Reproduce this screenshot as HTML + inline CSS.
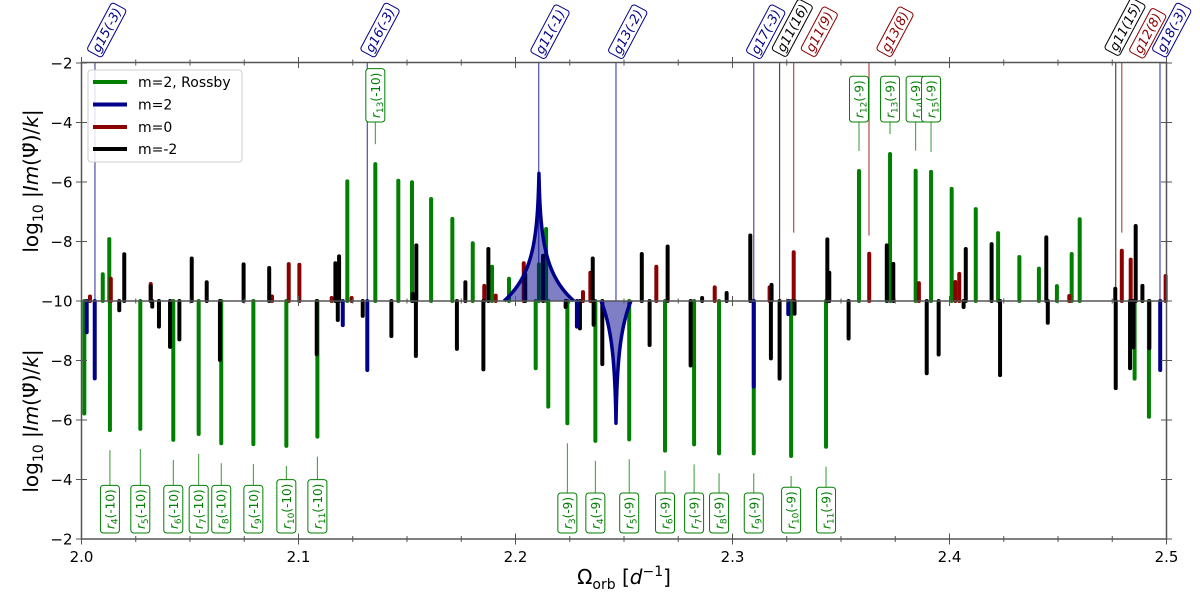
<!DOCTYPE html>
<html><head><meta charset="utf-8">
<style>
html,body{margin:0;padding:0;background:#fff;}
svg{display:block;font-family:"DejaVu Sans","Liberation Sans",sans-serif;}
</style></head>
<body>
<svg id="chart" width="1200" height="600" viewBox="0 0 1200 600" xmlns="http://www.w3.org/2000/svg">
  <g id="gBars"></g>
  <g id="gRes"></g>
  <g id="gAxes"></g>
  <g id="gLabels"></g>
  <g>
    <rect x="88" y="70" width="154" height="92" rx="3" fill="#fff" fill-opacity="0.85" stroke="#ccc" stroke-width="1"/>
    <line x1="93" y1="82" x2="127" y2="82" stroke="#007f00" stroke-width="4"/>
    <text x="138" y="87" font-size="14">m=2, Rossby</text>
    <line x1="93" y1="104.5" x2="127" y2="104.5" stroke="#00008b" stroke-width="4"/>
    <text x="138" y="109.5" font-size="14">m=2</text>
    <line x1="93" y1="127" x2="127" y2="127" stroke="#8b0000" stroke-width="4"/>
    <text x="138" y="132" font-size="14">m=0</text>
    <line x1="93" y1="149" x2="127" y2="149" stroke="#000" stroke-width="4"/>
    <text x="138" y="154" font-size="14">m=-2</text>
  </g>
  <text transform="translate(38,181) rotate(-90)" text-anchor="middle" font-size="20">log<tspan font-size="14" dy="5">10</tspan><tspan dy="-5"> |</tspan><tspan font-style="italic">Im</tspan>(Ψ̃)/<tspan font-style="italic">k</tspan>|</text>
  <text transform="translate(38,421) rotate(-90)" text-anchor="middle" font-size="20">log<tspan font-size="14" dy="5">10</tspan><tspan dy="-5"> |</tspan><tspan font-style="italic">Im</tspan>(Ψ̃)/<tspan font-style="italic">k</tspan>|</text>
  <text x="624" y="584" text-anchor="middle" font-size="20">Ω<tspan font-size="14" dy="5">orb</tspan><tspan dy="-5"> [</tspan><tspan font-style="italic">d</tspan><tspan font-size="14" dy="-8">−1</tspan><tspan dy="8">]</tspan></text>
</svg>
<script>
// ---- data ----
const greenUp = [[2.0098,-9.1],[2.0128,-7.92],[2.1225,-5.98],[2.1354,-5.4],[2.146,-5.96],[2.1523,-6.01],[2.1611,-6.57],[2.1709,-7.24],[2.1803,-8.06],[2.1892,-8.85],[2.197,-9.25],[2.2108,-8.77],[2.2141,-7.58],[2.3583,-5.63],[2.3726,-5.06],[2.3844,-5.62],[2.3915,-5.66],[2.401,-6.23],[2.4121,-6.91],[2.4224,-7.72],[2.4322,-8.52],[2.4412,-8.91],[2.4495,-9.5],[2.4563,-8.42],[2.46,-7.25]];
const greenDown = [[2.0013,-6.22],[2.0131,-5.66],[2.0271,-5.7],[2.0423,-5.33],[2.054,-5.53],[2.0644,-5.22],[2.0792,-5.19],[2.0944,-5.13],[2.1087,-5.44],[2.2093,-7.74],[2.2151,-6.45],[2.2239,-5.89],[2.2368,-5.3],[2.2524,-5.35],[2.2689,-4.97],[2.2823,-5.18],[2.2938,-4.88],[2.3098,-4.88],[2.327,-4.79],[2.3431,-5.1],[2.4853,-7.39],[2.4919,-6.11]];
const blueDown = [[2.0024,-8.95],[2.0061,-7.4],[2.1204,-9.19],[2.1317,-7.68],[2.2283,-9.14],[2.3098,-7.12],[2.3257,-9.56],[2.4971,-7.68]];
const redUp = [[2.0039,-9.85],[2.0135,-9.25],[2.0319,-9.43],[2.0878,-9.85],[2.0955,-8.76],[2.1004,-8.78],[2.1153,-9.9],[2.1245,-9.9],[2.1856,-9.49],[2.1909,-9.82],[2.2038,-8.73],[2.2311,-9.7],[2.2345,-9.05],[2.2649,-8.85],[2.2918,-9.54],[2.3171,-9.54],[2.3282,-8.36],[2.363,-8.41],[2.3859,-9.4],[2.4027,-9.36],[2.4045,-9.09],[2.4552,-9.83],[2.4794,-8.31],[2.4835,-8.61],[2.4996,-9.16]];
const blackUp = [[2.0197,-8.43],[2.0319,-9.5],[2.0508,-8.57],[2.0577,-9.37],[2.0747,-8.77],[2.0865,-8.89],[2.117,-8.73],[2.1187,-8.5],[2.1526,-9.76],[2.1543,-8.13],[2.1769,-9.37],[2.1875,-8.25],[2.2045,-9.1],[2.2127,-8.48],[2.2356,-8.57],[2.2582,-8.42],[2.2701,-8.17],[2.286,-9.9],[2.2973,-9.73],[2.3082,-7.8],[2.318,-9.46],[2.3437,-7.93],[2.3446,-9.05],[2.3711,-8.13],[2.3741,-8.75],[2.4075,-8.25],[2.4194,-8.09],[2.4446,-7.86],[2.4764,-9.59],[2.4858,-7.48],[2.4889,-9.49]];
const blackDown = [[2.0174,-9.69],[2.0326,-9.81],[2.0357,-9.14],[2.0408,-8.46],[2.0451,-8.71],[2.0638,-8.02],[2.1084,-8.21],[2.1181,-9.36],[2.1296,-9.5],[2.1428,-8.82],[2.1541,-8.15],[2.173,-8.39],[2.1852,-7.7],[2.2231,-9.8],[2.2297,-9.08],[2.236,-9.2],[2.24,-7.88],[2.2618,-8.52],[2.2807,-7.83],[2.3177,-8.07],[2.3217,-7.39],[2.3286,-9.57],[2.3535,-8.74],[2.3895,-7.57],[2.395,-8.2],[2.4065,-9.8],[2.4233,-7.51],[2.4453,-9.27],[2.4766,-7.07],[2.4832,-7.74],[2.4847,-8.44],[2.4921,-8.41]];
// resonances: [center, peak value, half width, side]
const resonances = [[2.2108,-5.71,0.0161,'up'],[2.2463,-5.89,0.0069,'down']];
// top g-mode annotations: [freq, label, color, line end value (upper half)]
const gModes = [[2.0062,'g15(-3)','#00008b',-10],[2.1317,'g16(-3)','#00008b',-10],[2.2107,'g11(-1)','#00008b',-10],[2.2463,'g13(-2)','#00008b',-10],[2.3098,'g17(-3)','#00008b',-10],[2.3217,'g11(16)','#000',-10],[2.3282,'g11(9)','#8b0000',-7.7],[2.3629,'g13(8)','#8b0000',-7.8],[2.4766,'g11(15)','#000',-9.6],[2.4794,'g12(8)','#8b0000',-7.7],[2.497,'g18(-3)','#00008b',-10]];
const gBoxCenters = [[106.7,30],[380,30],[550,31.7],[627.7,31.7],[765.7,31.7],[792.3,28],[819.3,31.7],[895,31.7],[1125,27],[1147.7,33.3],[1171.7,30]];
// Rossby annotations: [freq, n, k, bar value, side]
const rUp = [[2.1354,13,-10,-5.4],[2.3583,12,-9,-5.63],[2.3726,13,-9,-5.06],[2.3844,14,-9,-5.62],[2.3915,15,-9,-5.66]];
const rDown = [[2.0131,4,-10,-5.66],[2.0271,5,-10,-5.7],[2.0423,6,-10,-5.33],[2.054,7,-10,-5.53],[2.0644,8,-10,-5.22],[2.0792,9,-10,-5.19],[2.0944,10,-10,-5.13],[2.1087,11,-10,-5.44],[2.2239,3,-9,-5.89],[2.2368,4,-9,-5.3],[2.2524,5,-9,-5.35],[2.2689,6,-9,-4.97],[2.2823,7,-9,-5.18],[2.2938,8,-9,-4.88],[2.3098,9,-9,-4.88],[2.327,10,-9,-4.79],[2.3431,11,-9,-5.1]];
const xTickLabels = ['2.0','2.1','2.2','2.3','2.4','2.5'];
const yTickUpper = [-2,-4,-6,-8,-10];
const yTickLower = [-8,-6,-4,-2];

// ---- scales ----
const NS='http://www.w3.org/2000/svg';
const X0=81.5, XS=2170, YC=301, YS=29.75, YTOP=62.5, YBOT=539, XR=1166.5;
const X = f => X0 + (f-2)*XS;
const Yu = v => YC - (v+10)*YS;
const Yd = v => YC + (v+10)*YS;
function mk(tag, attrs, parent){const e=document.createElementNS(NS,tag);for(const k in attrs)e.setAttribute(k,attrs[k]);parent.appendChild(e);return e;}
const gBars=document.getElementById('gBars'), gRes=document.getElementById('gRes'), gAxes=document.getElementById('gAxes'), gLab=document.getElementById('gLabels');

// g-mode lines (behind bars)
gModes.forEach((g,i)=>{
  const l=mk('line',{x1:X(g[0]),x2:X(g[0]),y1:YTOP,y2:Yu(g[3]),stroke:g[2],'stroke-width':1.2,'stroke-opacity':0.7},gBars);
  
  
});

function bars(arr,color,side,name){
  arr.forEach((d,i)=>{
    const x=X(d[0]);
    const y=side==='up'?Yu(d[1]):Yd(d[1]);
    const b=mk('line',{x1:x,x2:x,y1:YC,y2:y,stroke:color,'stroke-width':4,'stroke-linecap':'round'},gBars);
    
    
  });
}
bars(greenUp,'#007f00','up','rossby-m2');
bars(greenDown,'#007f00','down','rossby-m2');
bars(redUp,'#8b0000','up','m0');
bars(blackUp,'#000','up','m-2');
bars(blackDown,'#000','down','m-2');
bars(blueDown,'#00008b','down','m2');

// resonance curves
resonances.forEach(r=>{
  const [c,pk,w,side]=r, hp=pk+10, cc=0.0003;
  const pts=[];
  for(let i=-100;i<=100;i++){
    const dx=w*i/100;
    const h=hp*(1-Math.log(1+Math.abs(dx)/cc)/Math.log(1+w/cc));
    const v=-10+Math.max(0,h);
    pts.push([X(c+dx), side==='up'?Yu(v):Yd(v)]);
  }
  const d='M'+pts.map(p=>p[0].toFixed(2)+','+p[1].toFixed(2)).join(' L');
  const a=mk('path',{d:d+' Z',fill:'#00008b','fill-opacity':0.5,stroke:'none'},gRes);
  
  
  const p=mk('path',{d:d,fill:'none',stroke:'#00008b','stroke-width':3.5,'stroke-linejoin':'round'},gRes);
  
  
});

// axes
const ax='#555';
const frame=mk('rect',{x:X0,y:YTOP,width:XR-X0,height:YBOT-YTOP,fill:'none',stroke:ax,'stroke-width':1.5},gAxes);


const mid=mk('line',{x1:X0,x2:XR,y1:YC,y2:YC,stroke:ax,'stroke-width':1.5},gAxes);


for(let i=0;i<=20;i++){
  const x=X(2+i*0.025), major=i%4===0, L=major?5.5:3;
  [YBOT,YTOP].forEach(y=>{
    const t=mk('line',{x1:x,x2:x,y1:y-L,y2:y+L,stroke:ax,'stroke-width':1},gAxes);
    
    
  });
  const tm=mk('line',{x1:x,x2:x,y1:YC-(major?5:2.5),y2:YC+(major?5:2.5),stroke:ax,'stroke-width':1},gAxes);
  
  
}
xTickLabels.forEach((s,i)=>{
  const t=mk('text',{x:X(2+i*0.1),y:562,'text-anchor':'middle','font-size':15},gAxes);
  t.textContent=s;
  
  
});
function ytick(v,y){
  [X0,XR].forEach(x=>{
    const t=mk('line',{x1:x-5.5,x2:x+5.5,y1:y,y2:y,stroke:ax,'stroke-width':1},gAxes);
    
    
  });
  const l=mk('text',{x:X0-9,y:y+5.5,'text-anchor':'end','font-size':15},gAxes);
  l.textContent=String(v).replace('-','−');
  
  
}
yTickUpper.forEach(v=>ytick(v,Yu(v)));
yTickLower.forEach(v=>ytick(v,Yd(v)));

// g-mode boxes (rotated)
gModes.forEach((g,i)=>{
  const [cx,cy]=gBoxCenters[i];
  const grp=mk('g',{transform:`translate(${cx},${cy}) rotate(-62)`},gLab);
  
  
  const rect=mk('rect',{y:-8.5,height:17,rx:3,fill:'#fff',stroke:g[2],'stroke-width':1},grp);
  const t=mk('text',{x:0,y:4.5,'text-anchor':'middle','font-size':13,'font-style':'italic',fill:g[2]},grp);
  t.textContent=g[1];
  const w=t.getComputedTextLength()+6;
  rect.setAttribute('x',-w/2); rect.setAttribute('width',w);
});

// Rossby boxes (vertical)
function rLabel(d,side){
  const [f,n,k,v]=d, x=X(f);
  const grp=mk('g',{},gLab);
  
  
  const rect=mk('rect',{x:x-9.5,width:19,rx:3,fill:'#fff',stroke:'#007f00','stroke-width':1},grp);
  const t=mk('text',{'font-size':12,fill:'#007f00'},grp);
  const r=mk('tspan',{'font-style':'italic'},t); r.textContent='r';
  const s=mk('tspan',{'font-size':9,dy:3},t); s.textContent=String(n);
  const q=mk('tspan',{dy:-3},t); q.textContent='('+k+')';
  const len=t.getComputedTextLength(), h=len+8;
  let bTop,bBot,lineA,lineB;
  if(side==='down'){bBot=533;bTop=bBot-h;lineA=Yd(v)+20;lineB=bTop;}
  else{bBot=122;bTop=bBot-h;lineA=bBot;lineB=Yu(v)-20;}
  rect.setAttribute('y',bTop); rect.setAttribute('height',h);
  t.setAttribute('transform',`translate(${x+4.5},${bBot-4}) rotate(-90)`);
  const ln=mk('line',{x1:x,x2:x,y1:lineA,y2:lineB,stroke:'#007f00','stroke-width':1,'stroke-opacity':0.8},grp);
}
rUp.forEach(d=>rLabel(d,'up'));
rDown.forEach(d=>rLabel(d,'down'));
</script>
</body></html>
